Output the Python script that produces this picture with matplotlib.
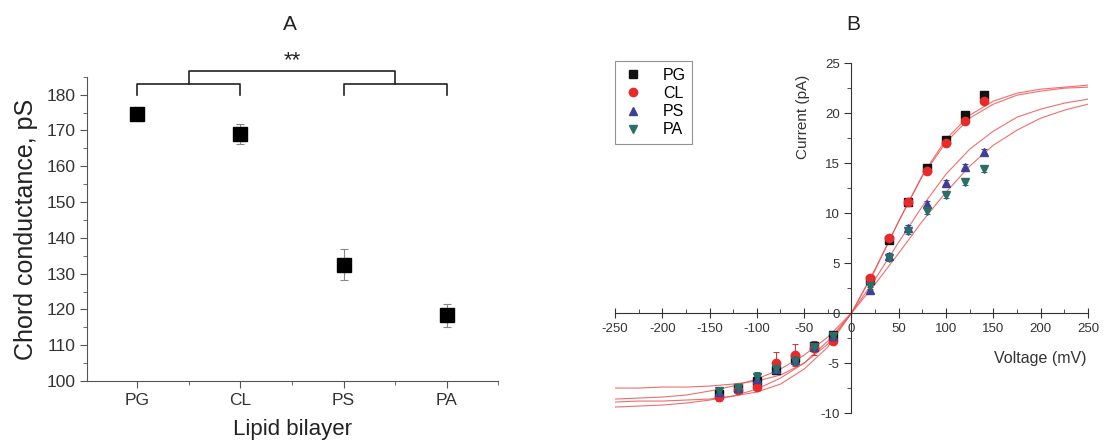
import numpy as np
import matplotlib
matplotlib.use("Agg")
import matplotlib.pyplot as plt
from matplotlib.lines import Line2D
from matplotlib.ticker import MultipleLocator, FixedLocator

plt.rcParams['font.family'] = ['Liberation Sans', 'DejaVu Sans']
plt.rcParams['axes.unicode_minus'] = False

# panel A: chord conductance per lipid
lipids = ["PG", "CL", "PS", "PA"]
conductance = [174.7, 169.1, 132.5, 118.4]
conductance_err = [1.5, 2.8, 4.3, 3.2]

# panel B: I-V data
voltage = [-140, -120, -100, -80, -60, -40, -20, 20, 40, 60, 80, 100, 120, 140]
cur_pg = [-8.1, -7.5, -6.8, -5.7, -4.5, -3.3, -2.2, 3.3, 7.3, 11.1, 14.5, 17.3, 19.8, 21.8]
cur_cl = [-8.4, -7.7, -7.4, -5.0, -4.2, -3.5, -2.8, 3.5, 7.5, 11.1, 14.2, 17.0, 19.2, 21.2]
cur_ps = [-7.9, -7.5, -6.6, -5.6, -4.7, -3.4, -2.3, 2.3, 5.7, 8.5, 10.9, 13.0, 14.6, 16.1]
cur_pa = [-7.8, -7.5, -6.4, -5.6, -4.8, -3.4, -2.3, 2.7, 5.5, 8.2, 10.2, 11.8, 13.1, 14.4]
err_pg = [0.3, 0.3, 0.3, 0.4, 0.4, 0.4, 0.3, 0.3, 0.3, 0.3, 0.3, 0.3, 0.3, 0.3]
err_cl = [0.4, 0.3, 0.3, 1.1, 1.1, 0.7, 0.3, 0.3, 0.3, 0.3, 0.3, 0.3, 0.3, 0.3]
err_ps = [0.3, 0.3, 0.3, 0.4, 0.4, 0.4, 0.3, 0.3, 0.3, 0.3, 0.3, 0.3, 0.3, 0.3]
err_pa = [0.3, 0.3, 0.5, 0.4, 0.4, 0.4, 0.3, 0.3, 0.3, 0.3, 0.3, 0.3, 0.3, 0.3]

# fitted curves, read every 25 mV
fit_v = [-250, -225, -200, -175, -150, -125, -100, -75, -50, -25, 0,
         25, 50, 75, 100, 125, 150, 175, 200, 225, 250]
fit_pg = [-7.5, -7.5, -7.4, -7.4, -7.3, -7.1, -6.8, -6.2, -5.0, -3.1, 0.0,
          4.3, 9.2, 13.8, 17.4, 19.8, 21.2, 22.0, 22.4, 22.6, 22.8]
fit_cl = [-8.9, -8.8, -8.8, -8.7, -8.6, -8.3, -7.9, -7.1, -5.6, -3.4, 0.0,
          4.4, 9.2, 13.7, 17.1, 19.5, 20.9, 21.8, 22.2, 22.5, 22.6]
fit_ps = [-9.4, -9.3, -9.2, -9.0, -8.7, -8.3, -7.6, -6.5, -5.0, -2.8, 0.0,
          3.4, 7.1, 10.7, 13.9, 16.4, 18.2, 19.6, 20.4, 21.0, 21.4]
fit_pa = [-8.6, -8.5, -8.4, -8.2, -7.8, -7.3, -6.6, -5.6, -4.2, -2.4, 0.0,
          2.9, 6.0, 9.2, 12.1, 14.7, 16.8, 18.3, 19.5, 20.3, 20.9]

fig = plt.figure(figsize=(11.06, 4.48), dpi=100)

# ---------- A ----------
axA = fig.add_axes([0.0791, 0.1496, 0.3716, 0.679])
xpos = np.arange(1, len(lipids) + 1)
axA.errorbar(xpos, conductance, yerr=conductance_err, fmt='s', color='black',
             ms=9.5, ecolor='#888888', elinewidth=0.8, capsize=3, capthick=0.8)
axA.set_xlim(0.52, 4.5)
axA.set_ylim(100, 185)
axA.spines['top'].set_visible(False)
axA.spines['right'].set_visible(False)
for s in ['left', 'bottom']:
    axA.spines[s].set_color('#555555')
axA.set_xticks(xpos)
axA.set_xticklabels(lipids)
axA.xaxis.set_minor_locator(FixedLocator([1.5, 2.5, 3.5, 4.5]))
axA.yaxis.set_major_locator(MultipleLocator(10))
axA.yaxis.set_minor_locator(MultipleLocator(5))
axA.tick_params(which='both', direction='out', colors='#555555', labelcolor='#333333')
axA.tick_params(which='major', length=5, labelsize=12.5)
axA.tick_params(which='minor', length=3)
axA.set_ylabel("Chord conductance, pS", fontsize=18, color='#222222', labelpad=6)
axA.set_xlabel("Lipid bilayer", fontsize=16, color='#222222', labelpad=8)
fig.text(290 / 1106, 1 - 25 / 448, "A", ha='center', va='center',
         fontsize=15, color='#222222')

# significance brackets
kw = dict(color='#222222', lw=1.2, clip_on=False)
axA.plot([1, 1, 2, 2], [180, 183.1, 183.1, 180], **kw)
axA.plot([3, 3, 4, 4], [180, 183.1, 183.1, 180], **kw)
axA.plot([1.5, 1.5, 3.5, 3.5], [183.1, 186.6, 186.6, 183.1], **kw)
axA.text(2.5, 189.5, "**", ha='center', va='center', fontsize=16, color='#222222')

# ---------- B ----------
axB = fig.add_axes([0.556, 0.078, 0.4277, 0.781])
axB.set_xlim(-250, 250)
axB.set_ylim(-10, 25)
for fv in [fit_pg, fit_cl, fit_ps, fit_pa]:
    axB.plot(fit_v, fv, color='#ee5555', lw=0.8, alpha=0.85)

series = [
    ("PG", cur_pg, err_pg, 's', '#111111'),
    ("CL", cur_cl, err_cl, 'o', '#e82a2a'),
    ("PS", cur_ps, err_ps, '^', '#3f3f98'),
    ("PA", cur_pa, err_pa, 'v', '#2a6e68'),
]
handles = []
for name, cur, err, mk, col in series:
    axB.errorbar(voltage, cur, yerr=err, fmt=mk, color=col, ms=6,
                 elinewidth=0.7, capsize=2, capthick=0.7)
    handles.append(Line2D([], [], ls='none', marker=mk, color=col, ms=6, label=name))

for s in ['top', 'right']:
    axB.spines[s].set_visible(False)
axB.spines['left'].set_position(('data', 0))
axB.spines['bottom'].set_position(('data', 0))
for s in ['left', 'bottom']:
    axB.spines[s].set_color('#333333')
axB.xaxis.set_major_locator(MultipleLocator(50))
axB.xaxis.set_minor_locator(MultipleLocator(25))
axB.yaxis.set_major_locator(MultipleLocator(5))
axB.yaxis.set_minor_locator(MultipleLocator(2.5))
axB.tick_params(axis='x', which='major', direction='inout', length=7)
axB.tick_params(axis='x', which='minor', direction='in', length=3)
axB.tick_params(axis='y', which='major', direction='out', length=5)
axB.tick_params(axis='y', which='minor', direction='out', length=3)
axB.tick_params(which='both', colors='#333333', labelsize=9.5, labelcolor='#333333')
axB.set_xticks([-250, -200, -150, -100, -50, 0, 50, 100, 150, 200, 250])
axB.text(-51, 19.6, "Current (pA)", rotation=90, ha='center', va='center',
         fontsize=11, color='#333333')
axB.text(200, -4.5, "Voltage (mV)", ha='center', va='center',
         fontsize=11.5, color='#333333')
fig.text(853 / 1106, 1 - 25 / 448, "B", ha='center', va='center',
         fontsize=15, color='#222222')

leg = axB.legend(handles=handles, loc='upper left', bbox_to_anchor=(0.0, 1.005),
                 fontsize=11.5, frameon=True, fancybox=False, edgecolor='#777777',
                 handletextpad=1.2, borderpad=0.4, labelspacing=0.2,
                 handlelength=1.4, borderaxespad=0.0)
leg.get_frame().set_linewidth(0.8)

fig.savefig("out.png", dpi=100)
